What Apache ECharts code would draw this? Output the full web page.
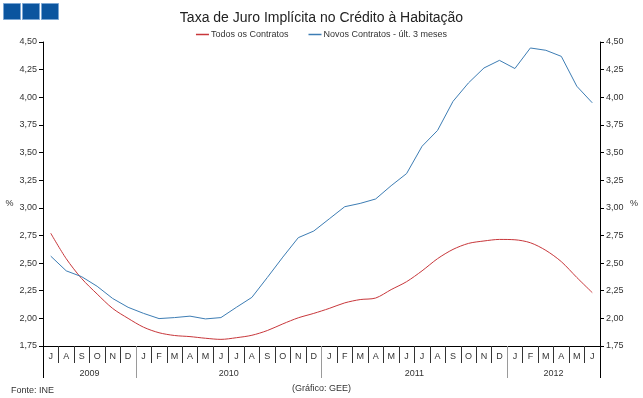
<!DOCTYPE html>
<html>
<head>
<meta charset="utf-8">
<script src="https://cdn.jsdelivr.net/npm/echarts@6/dist/echarts.min.js"></script>
<style>
  html, body { margin: 0; padding: 0; background: #fff; }
  #chart { width: 643px; height: 398px; }
</style>
</head>
<body>
<div id="chart"></div>
<script>
// meses de Jul 2009 a Jun 2012
const monthLabels = [
  'J', 'A', 'S', 'O', 'N', 'D',
  'J', 'F', 'M', 'A', 'M', 'J', 'J', 'A', 'S', 'O', 'N', 'D',
  'J', 'F', 'M', 'A', 'M', 'J', 'J', 'A', 'S', 'O', 'N', 'D',
  'J', 'F', 'M', 'A', 'M', 'J'
]
const yearLabels = ['2009', '2010', '2011', '2012']
const yearMonths = [6, 12, 12, 6]

const todosContratos = [
  2.77, 2.54, 2.36, 2.22, 2.09, 2.00,
  1.92, 1.87, 1.845, 1.835, 1.82, 1.81, 1.825, 1.847, 1.89, 1.95, 2.005, 2.045,
  2.09, 2.14, 2.17, 2.184, 2.26, 2.332, 2.43, 2.54, 2.624, 2.678, 2.70, 2.714,
  2.711, 2.684, 2.615, 2.513, 2.37, 2.233
]
const novosContratos = [
  2.563, 2.43, 2.377, 2.29, 2.18, 2.10,
  2.045, 1.998, 2.007, 2.02, 1.995, 2.007, 2.10, 2.19, 2.37, 2.554, 2.73, 2.79,
  2.90, 3.01, 3.04, 3.08, 3.20, 3.31, 3.557, 3.70, 3.963, 4.13, 4.265, 4.334,
  4.26, 4.446, 4.425, 4.37, 4.10, 3.95
]

const yMin = 1.75
const yMax = 4.5
const yStep = 0.25

// eixo dos anos em meios-meses (posições nas fronteiras)
const halfSlots = []
const yearLabelIdx = []
const yearSepIdx = []
let pos = 0
yearMonths.forEach((m, i) => {
  if (i > 0) yearSepIdx.push(pos)
  yearLabelIdx.push(pos + m)
  pos += m * 2
})
for (let k = 0; k <= pos; k++) halfSlots.push('')
yearLabelIdx.forEach((k, i) => { halfSlots[k] = yearLabels[i] })

const font = 'Arial, "Liberation Sans", sans-serif'
const fmt = v => v.toFixed(2).replace('.', ',')

const chart = echarts.init(document.getElementById('chart'))

const yAxisBase = {
  type: 'value',
  min: yMin,
  max: yMax,
  interval: yStep,
  // linha vazia para descer o "%" para perto do 3,00
  name: '\n%',
  nameLocation: 'middle',
  nameRotate: 0,
  nameTextStyle: { color: '#333', fontSize: 9, fontFamily: font, lineHeight: 20 },
  axisLine: { show: true, lineStyle: { color: '#000', width: 1 } },
  axisTick: { show: true, length: 4, lineStyle: { color: '#000' } },
  axisLabel: { color: '#333', fontSize: 9, fontFamily: font, margin: 6, formatter: fmt },
  splitLine: { show: false }
}

chart.setOption({
  backgroundColor: '#fff',
  animation: false,
  title: [
    {
      text: 'Taxa de Juro Implícita no Crédito à Habitação',
      left: 'center',
      top: 6,
      textStyle: { fontSize: 14, fontWeight: 'normal', color: '#222', fontFamily: font }
    },
    {
      text: 'Fonte: INE',
      left: 6,
      top: 381,
      textStyle: { fontSize: 9, fontWeight: 'normal', color: '#333', fontFamily: font }
    },
    {
      text: '(Gráfico: GEE)',
      left: 'center',
      top: 379,
      textStyle: { fontSize: 9, fontWeight: 'normal', color: '#333', fontFamily: font }
    }
  ],
  legend: {
    top: 25,
    left: 'center',
    icon: 'rect',
    itemWidth: 13,
    itemHeight: 1.5,
    itemGap: 20,
    textStyle: { fontSize: 9, color: '#333', fontFamily: font, padding: [0, 0, 0, -3] },
    data: ['Todos os Contratos', 'Novos Contratos - últ. 3 meses']
  },
  graphic: [0, 1, 2].map(i => ({
    type: 'rect',
    left: 3 + i * 19,
    top: 3,
    shape: { width: 17, height: 16 },
    style: { fill: '#0b559f', stroke: '#7aa6d4', lineWidth: 1 }
  })),
  grid: { left: 43, right: 43, top: 42, bottom: 52 },
  xAxis: [
    {
      type: 'category',
      position: 'bottom',
      data: monthLabels,
      boundaryGap: true,
      axisLine: { show: true, lineStyle: { color: '#000' } },
      axisTick: { show: true, interval: 0, length: 17, lineStyle: { color: '#333' } },
      axisLabel: { interval: 0, color: '#333', fontSize: 9, fontFamily: font, margin: 6 }
    },
    {
      type: 'category',
      position: 'bottom',
      data: halfSlots,
      boundaryGap: false,
      axisLine: { show: false },
      axisTick: {
        show: true,
        length: 32,
        interval: idx => yearSepIdx.includes(idx),
        lineStyle: { color: '#9a9a9a' }
      },
      axisLabel: {
        interval: idx => yearLabelIdx.includes(idx),
        color: '#333',
        fontSize: 9,
        fontFamily: font,
        margin: 23
      }
    },
    {
      type: 'category',
      position: 'bottom',
      data: halfSlots,
      boundaryGap: false,
      axisLine: { show: false },
      axisTick: {
        show: true,
        length: 32,
        interval: idx => idx === 0 || idx === halfSlots.length - 1,
        lineStyle: { color: '#000' }
      },
      axisLabel: { show: false }
    }
  ],
  yAxis: [
    Object.assign({}, yAxisBase, { position: 'left', nameGap: 28 }),
    Object.assign({}, yAxisBase, { position: 'right', nameGap: 30 })
  ],
  series: [
    {
      name: 'Todos os Contratos',
      type: 'line',
      xAxisIndex: 0,
      yAxisIndex: 0,
      data: todosContratos,
      smooth: 0.3,
      showSymbol: false,
      lineStyle: { color: '#c8373b', width: 1 },
      itemStyle: { color: '#c8373b' }
    },
    {
      name: 'Novos Contratos - últ. 3 meses',
      type: 'line',
      xAxisIndex: 0,
      yAxisIndex: 0,
      data: novosContratos,
      showSymbol: false,
      lineStyle: { color: '#3d7db4', width: 1 },
      itemStyle: { color: '#3d7db4' }
    }
  ]
})

window.addEventListener('resize', () => chart.resize())
</script>
</body>
</html>
